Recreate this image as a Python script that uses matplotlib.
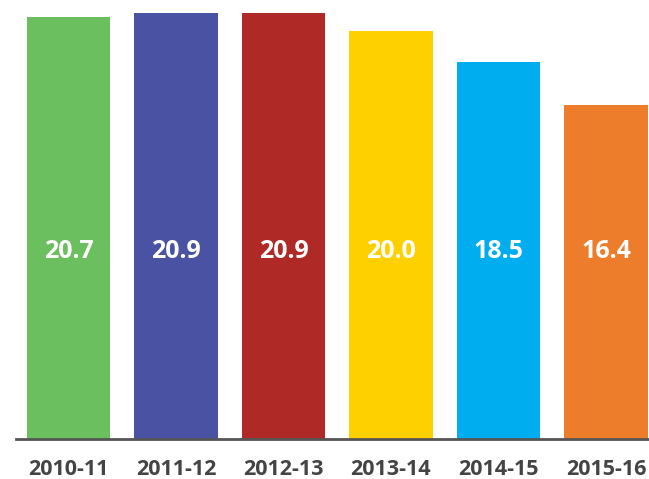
import matplotlib
matplotlib.use("Agg")
import matplotlib.pyplot as plt

categories = ["2010-11", "2011-12", "2012-13", "2013-14", "2014-15", "2015-16"]
values = [20.7, 20.9, 20.9, 20.0, 18.5, 16.4]
colors = ["#6CBF5F", "#4A52A3", "#AF2A26", "#FFD000", "#00AEEF", "#EE7D2B"]

fig = plt.figure(figsize=(6.49, 4.79), dpi=100)
ax = fig.add_axes([16/649, 40.5/479, 1 - 16/649, 425.5/479])
x = list(range(len(categories)))
ax.bar(x, values, width=0.775, color=colors, zorder=2)
ax.set_xlim(-0.488, 5.40)
ax.set_ylim(0, 20.9)
for s in ["top", "right", "left"]:
    ax.spines[s].set_visible(False)
ax.spines["bottom"].set_color("#555555")
ax.spines["bottom"].set_linewidth(2)
ax.set_yticks([])
ax.set_xticks(x)
ax.set_xticklabels(categories, fontfamily="Open Sans", fontweight="bold",
                   fontsize=15.5, color="#444444")
ax.tick_params(axis="x", length=0, pad=15)
for xi, v in zip(x, values):
    ax.text(xi, (438.5 - 251) / 425.5, f"{v:.1f}", transform=ax.get_xaxis_transform(),
            ha="center", va="center", color="white", fontsize=18,
            fontfamily="Open Sans", fontweight="bold")
fig.savefig("out.png", dpi=100)
